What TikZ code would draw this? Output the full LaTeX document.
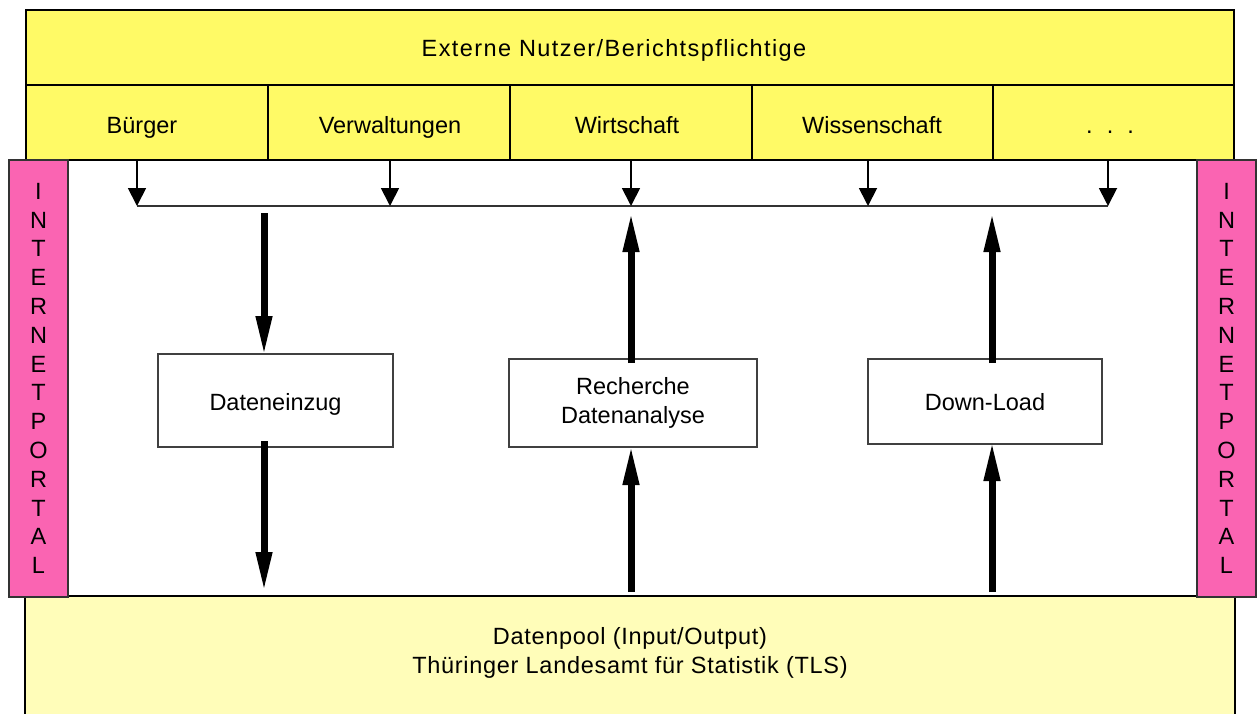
\documentclass[tikz,border=0pt]{standalone}
\usepackage{fontspec}
\setmainfont{Liberation Sans}
\usetikzlibrary{arrows.meta}
\definecolor{topyellow}{RGB}{255,250,102}
\definecolor{poolyellow}{RGB}{255,253,185}
\definecolor{portalpink}{RGB}{250,100,178}
\begin{document}
\begin{tikzpicture}[x=1pt,y=-1pt,
  every node/.style={font=\fontsize{23.5}{29}\selectfont, inner sep=0pt, outer sep=0pt},
  cell/.style={draw=black, line width=1.3pt, fill=topyellow, rectangle, minimum height=75pt},
  portal/.style={draw=black!80, line width=1.3pt, fill=portalpink, minimum width=59pt, minimum height=437pt, align=center, font=\fontsize{23.5}{28.8}\selectfont},
  pool/.style={draw=black, line width=1.3pt, fill=poolyellow},
  proc/.style={draw=black!75, line width=1.3pt, fill=white, align=center},
  label/.style={anchor=base},
  smallarrow/.style={line width=1.8pt, -{Triangle[length=18pt,width=18pt]}},
  bigarrow/.style={line width=7pt, -{Triangle[length=40pt,width=15pt]}},
]
\useasboundingbox (0,0) rectangle (1257,713);
% bottom data pool
\node[pool, minimum width=1210pt, minimum height=134pt] (pool) at (630,663) {};
\node[align=center, font=\fontsize{23.5}{29}\selectfont\addfontfeature{LetterSpace=3}] (pooltext) at (630,653) {Datenpool (Input/Output)\\Thüringer Landesamt für Statistik (TLS)};
% top users
\node[cell, minimum width=1208pt] (ext) at (630,47.5) {};
\node[label, font=\fontsize{23.5}{29}\selectfont\addfontfeature{LetterSpace=6}] (text) at (614,56.5) {Externe Nutzer/Berichtspflichtige};
\node[cell, minimum width=242pt] (buerger) at (147,122.5) {};
\node[cell, minimum width=242pt] (verw) at (389,122.5) {};
\node[cell, minimum width=242pt] (wirt) at (631,122.5) {};
\node[cell, minimum width=241pt] (wiss) at (872.5,122.5) {};
\node[cell, minimum width=241pt] (dots) at (1113.5,122.5) {};
\node[label] (tbuerger) at (142,133) {Bürger};
\node[label] (tverw) at (390,133) {Verwaltungen};
\node[label] (twirt) at (627,133) {Wirtschaft};
\node[label] (twiss) at (872,133) {Wissenschaft};
\node[label] (tdots) at (1110,133) {.\hspace{0.6em}.\hspace{0.6em}.};
% portal bars
\node[portal] (portL) at (38.5,378.5) {I\\N\\T\\E\\R\\N\\E\\T\\P\\O\\R\\T\\A\\L};
\node[portal] (portR) at (1226.5,378.5) {I\\N\\T\\E\\R\\N\\E\\T\\P\\O\\R\\T\\A\\L};
% process boxes
\node[proc, minimum width=235pt, minimum height=93pt] (dat) at (275.5,400.5) {};
\node[label] (tdat) at (275.5,410) {Dateneinzug};
\node[proc, minimum width=248pt, minimum height=88pt] (rech) at (633,403) {Recherche\\Datenanalyse};
\node[proc, minimum width=234pt, minimum height=85pt] (down) at (985,401.5) {};
\node[label] (tdown) at (985,410.5) {Down-Load};
% bus
\coordinate (a1) at (137,206);
\coordinate (a2) at (390,206);
\coordinate (a3) at (631,206);
\coordinate (a4) at (868,206);
\coordinate (a5) at (1108,206);
\draw[line width=1.3pt, black!80] (a1) -- (a5);
\draw[smallarrow] (a1 |- buerger.south) -- (a1);
\draw[smallarrow] (a2 |- verw.south) -- (a2);
\draw[smallarrow] (a3 |- wirt.south) -- (a3);
\draw[smallarrow] (a4 |- wiss.south) -- (a4);
\draw[smallarrow] (a5 |- dots.south) -- (a5);
% thick arrows
\coordinate (b1) at (264,206);
\coordinate (b2) at (631,206);
\coordinate (b3) at (992,206);
\draw[bigarrow] ([yshift=-7pt]b1) -- ([yshift=-2pt]b1 |- dat.north);
\draw[bigarrow] ([yshift=6pt]b1 |- dat.south) -- ([yshift=4pt]b1 |- pool.north);
\draw[bigarrow] ([yshift=4pt]b2 |- pool.north) -- ([yshift=2pt]b2 |- rech.south);
\draw[bigarrow] ([yshift=-4pt]b2 |- rech.north) -- ([yshift=-6pt]b2);
\draw[bigarrow] ([yshift=4pt]b3 |- pool.north) -- ([yshift=3pt]b3 |- down.south);
\draw[bigarrow] ([yshift=-4pt]b3 |- down.north) -- ([yshift=-6pt]b3);
\end{tikzpicture}
\end{document}
